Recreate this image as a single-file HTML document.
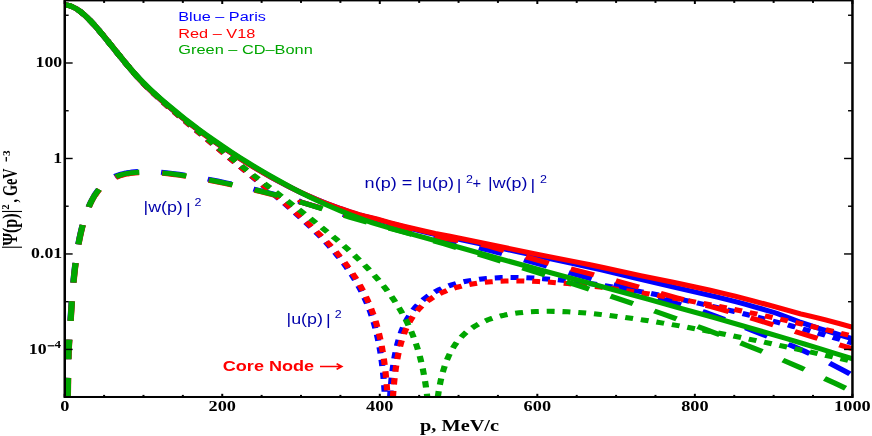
<!DOCTYPE html>
<html><head><meta charset="utf-8"><title>Deuteron momentum distribution</title>
<style>html,body{margin:0;padding:0;background:#fff}svg{display:block;will-change:transform}text{font-family:"Liberation Sans",sans-serif}.s{font-family:"Liberation Serif",serif;font-weight:bold}</style></head><body>
<svg width="872" height="436" viewBox="0 0 872 436">
<rect width="872" height="436" fill="#fff"/>
<defs><clipPath id="cp"><rect x="64.75" y="0.49" width="787.7" height="490.23"/></clipPath></defs>
<g transform="scale(1,0.809)">
<g clip-path="url(#cp)" fill="none" stroke-width="6.2" stroke-linejoin="round">
<path d="M65.00 5.98 L66.00 6.10 L67.50 6.41 L68.50 6.69 L70.00 7.24 L72.50 8.44 L75.00 9.99 L77.50 11.87 L80.50 14.51 L83.50 17.54 L86.50 20.90 L89.00 23.93 L92.00 27.80 L95.00 31.88 L98.00 36.14 L104.50 45.80 L121.50 71.84 L128.50 82.35 L132.50 88.17 L136.00 93.09 L139.00 97.16 L142.50 101.72 L147.00 107.32 L151.50 112.65 L157.00 118.88 L163.00 125.44 L169.50 132.33 L176.00 139.03 L182.50 145.53 L189.50 152.33 L197.00 159.37 L204.50 166.19 L212.50 173.23 L221.00 180.48 L229.50 187.50 L238.00 194.31 L247.00 201.32 L255.50 207.73 L263.50 213.55 L272.00 219.51 L280.50 225.24 L289.00 230.75 L295.00 234.48 L301.00 238.00 L309.50 242.76 L316.50 246.52 L321.50 249.09 L327.00 251.81 L332.50 254.44 L338.00 256.97 L343.00 259.17 L348.00 261.28 L353.00 263.30 L358.00 265.21 L361.00 266.30 L364.00 267.30 L376.50 271.17 L389.50 275.75 L396.50 278.10 L405.00 280.78 L427.00 287.50 L432.50 289.13 L436.00 290.09 L449.00 293.12 L461.50 296.34 L534.50 315.71 L572.00 325.49 L586.50 329.41 L601.50 333.68 L634.50 343.43 L675.00 355.19 L717.50 367.37 L727.50 370.34 L736.50 373.16 L745.00 375.96 L754.50 379.20 L765.00 382.90 L772.50 385.64 L776.50 387.27 L780.50 389.03 L799.00 397.63 L810.50 402.54 L818.50 405.75 L835.00 412.11 L844.50 415.70 L853.00 418.81" stroke="#0000ff" />
<path d="M64.70 5.96 L65.92 6.09 L67.10 6.31 L68.28 6.63 L69.47 7.03 L71.83 8.08 L74.39 9.58 L76.95 11.43 L79.71 13.78 L82.46 16.46 L85.42 19.65 L88.37 23.15 L91.52 27.17 L94.87 31.71 L98.61 37.04 L105.70 47.65 L125.39 77.85 L130.32 85.18 L134.65 91.43 L138.78 97.15 L143.12 102.85 L147.45 108.29 L152.17 113.96 L158.08 120.77 L165.17 128.66 L172.26 136.36 L179.35 143.84 L205.94 171.06 L227.40 193.18 L256.94 223.04 L269.74 236.09 L282.54 249.40 L293.57 261.21 L300.46 268.83 L306.96 276.23 L313.06 283.43 L318.77 290.41 L324.09 297.19 L329.01 303.75 L333.74 310.35 L338.07 316.73 L341.03 321.28 L343.78 325.71 L346.54 330.33 L349.10 334.83 L351.46 339.17 L353.83 343.73 L355.99 348.12 L358.14 352.72 L360.15 357.25 L362.16 362.05 L364.02 366.79 L365.74 371.46 L367.33 376.07 L368.92 380.95 L370.37 385.78 L371.80 390.87 L373.11 395.91 L374.31 400.89 L375.48 406.14 L376.60 411.65 L377.62 417.12 L378.59 422.84 L379.46 428.52 L380.29 434.45 L381.07 440.65 L381.80 447.10 L383.06 460.47 L384.12 474.88 L384.99 490.59 M390.12 490.55 L390.70 480.47 L391.38 471.00 L392.14 462.11 L392.99 453.83 L393.93 446.13 L394.99 438.77 L396.17 431.74 L397.44 425.29 L398.83 419.18 L400.34 413.40 L401.97 407.95 L403.81 402.58 L405.78 397.54 L407.89 392.84 L410.11 388.46 L412.57 384.18 L415.15 380.23 L418.00 376.39 L420.98 372.83 L424.32 369.33 L427.67 366.24 L431.22 363.37 L434.96 360.70 L439.09 358.11 L443.23 355.86 L447.76 353.71 L452.49 351.78 L457.41 350.06 L462.53 348.55 L468.04 347.18 L473.75 346.02 L479.66 345.05 L486.36 344.21 L493.45 343.58 L500.93 343.17 L508.61 342.98 L516.68 343.01 L525.15 343.26 L534.01 343.73 L543.07 344.41 L552.52 345.32 L562.37 346.45 L572.61 347.80 L583.05 349.36 L593.88 351.14 L605.10 353.15 L616.52 355.35 L628.34 357.78 L640.75 360.48 L653.35 363.38 L666.15 366.47 L679.34 369.79 L692.73 373.30 L706.52 377.05 L720.30 380.93 L734.48 385.06 L748.86 389.38 L763.23 393.82 L777.81 398.45 L792.57 403.27 L807.34 408.22 L822.31 413.35 L837.28 418.61 L852.24 423.99" stroke="#0000ff" stroke-dasharray="7.9 7.9"/>
<path d="M67.57 491.40 L68.13 449.25 L68.37 437.22 L68.63 429.04 L69.66 410.79 L71.57 374.72 L72.46 360.63 L73.40 347.54 L74.47 334.81 L75.61 323.22 L76.83 312.60 L78.15 302.77 L79.63 293.40 L81.29 284.31 L83.07 275.83 L84.97 268.05 L87.02 260.77 L88.10 257.35 L89.22 254.09 L90.53 250.57 L91.91 247.19 L93.34 244.01 L94.83 241.02 L94.60 240.97 L95.79 238.79 L97.02 236.70 L98.29 234.68 L99.59 232.79 L99.62 232.01 L100.94 230.23 L102.31 228.52 L103.70 226.93 L105.14 225.42 L106.87 223.76 L108.64 222.24 L110.48 220.83 L112.35 219.55 L114.32 218.36 L116.29 217.32 L118.26 216.40 L120.23 215.61 L122.20 214.91 L124.56 214.21 L126.92 213.62 L129.68 213.07 L132.04 212.69 L134.80 212.34 L137.56 212.10 L140.71 211.93 L145.04 211.86 L149.77 211.97 L154.89 212.27 L160.40 212.77 L166.31 213.47 L172.21 214.31 L178.91 215.41 L186.00 216.71 L193.48 218.21 L201.36 219.92 L209.24 221.73 L217.51 223.75 L226.17 225.97 L235.23 228.40 L244.68 231.04 L253.74 233.68 L263.19 236.55 L272.65 239.53 L281.71 242.51 L290.37 245.48 L299.43 248.72 L300.22 249.61 L327.79 259.69 L337.24 263.01 L345.52 265.79 L358.51 269.92 L383.32 277.45 L393.96 280.76 L405.38 284.45 L431.37 293.04 L438.46 295.29 L443.98 296.91 L450.28 298.66 L469.97 303.85 L477.45 305.88 L484.15 307.80 L490.45 309.75 L504.63 314.44 L522.35 320.52 L542.44 327.52 L570.80 337.62 L582.61 341.75 L591.67 344.77 L613.73 351.89 L625.15 355.78 L633.03 358.62 L642.08 361.99 L672.02 373.45 L690.92 380.46 L698.80 383.48 L704.71 385.89 L709.83 388.11 L725.58 395.47 L740.94 402.85 L760.63 412.52 L785.45 424.30 L792.53 427.83 L798.84 431.12 L805.14 434.57 L811.83 438.34 L818.53 442.24 L825.22 446.26 L831.92 450.39 L838.62 454.64 L845.31 458.99 L852.40 463.72" stroke="#0000ff" stroke-dasharray="24.3 23.12"/>
<path d="M65.00 5.98 L66.00 6.10 L67.50 6.41 L68.50 6.69 L70.00 7.24 L72.50 8.44 L75.00 9.99 L77.50 11.87 L80.50 14.51 L83.50 17.54 L86.50 20.90 L89.00 23.93 L91.50 27.14 L94.50 31.19 L97.50 35.42 L104.00 45.05 L122.00 72.60 L129.00 83.09 L133.00 88.88 L136.50 93.78 L139.50 97.82 L143.00 102.35 L147.50 107.92 L152.50 113.80 L158.00 119.99 L164.00 126.51 L170.50 133.37 L177.00 140.04 L183.50 146.52 L190.50 153.28 L198.00 160.29 L206.00 167.52 L214.00 174.53 L222.50 181.73 L231.00 188.72 L240.00 195.89 L249.50 203.22 L257.50 209.21 L265.50 214.97 L274.00 220.88 L282.50 226.56 L291.00 232.02 L297.00 235.67 L304.00 239.70 L312.00 244.10 L319.50 248.01 L324.50 250.50 L330.00 253.13 L340.00 257.65 L349.50 261.61 L354.50 263.55 L359.00 265.21 L364.00 266.89 L376.50 270.65 L389.50 275.09 L396.50 277.36 L404.50 279.79 L425.00 285.82 L435.00 288.64 L439.00 289.59 L448.50 291.68 L457.00 293.78 L536.50 314.18 L549.00 317.27 L577.00 324.05 L590.00 327.31 L603.00 330.70 L640.50 340.71 L673.00 348.90 L683.50 351.61 L710.00 358.80 L727.50 363.80 L735.00 366.06 L742.50 368.42 L753.00 371.84 L771.00 377.86 L800.50 387.86 L806.00 389.58 L818.50 393.30 L825.50 395.50 L839.50 400.04 L853.00 404.59" stroke="#ff0000" />
<path d="M64.70 5.96 L65.86 6.08 L67.05 6.30 L68.23 6.61 L69.41 7.01 L71.77 8.05 L74.33 9.55 L76.89 11.39 L79.65 13.73 L82.41 16.40 L85.16 19.37 L88.31 23.08 L91.46 27.09 L94.81 31.63 L98.55 36.96 L105.64 47.56 L125.53 78.06 L130.46 85.39 L134.99 91.90 L139.32 97.87 L143.65 103.54 L148.18 109.19 L152.91 114.82 L159.40 122.26 L167.08 130.76 L173.98 138.19 L181.85 146.43 L227.15 193.03 L263.97 229.80 L276.97 242.93 L287.80 254.11 L297.25 264.16 L303.95 271.51 L310.05 278.41 L315.76 285.10 L321.28 291.80 L326.40 298.28 L331.32 304.80 L335.85 311.09 L340.18 317.42 L343.13 321.95 L345.89 326.35 L348.65 330.95 L351.21 335.41 L353.57 339.72 L355.94 344.25 L358.10 348.61 L360.36 353.40 L362.40 357.97 L364.30 362.48 L366.20 367.26 L367.96 371.98 L369.59 376.64 L371.21 381.57 L372.70 386.44 L374.16 391.57 L375.49 396.65 L376.72 401.67 L377.91 406.96 L379.00 412.20 L380.04 417.70 L381.04 423.45 L381.94 429.16 L382.79 435.13 L383.59 441.35 L384.31 447.53 L385.61 460.96 L386.70 475.40 L387.59 490.87 M392.92 491.04 L393.51 481.26 L394.16 472.35 L394.92 463.76 L395.75 455.77 L396.70 448.11 L397.73 441.04 L398.87 434.30 L400.08 428.14 L401.40 422.32 L402.90 416.57 L404.51 411.15 L406.24 406.06 L408.09 401.30 L410.15 396.64 L412.32 392.30 L414.60 388.29 L417.11 384.37 L419.72 380.78 L422.50 377.39 L425.65 373.99 L428.99 370.83 L432.34 368.05 L435.89 365.45 L439.63 363.03 L443.57 360.80 L447.90 358.67 L452.23 356.81 L456.96 355.07 L461.88 353.52 L467.00 352.16 L472.32 350.97 L477.83 349.96 L484.33 349.02 L491.03 348.29 L498.11 347.76 L505.40 347.42 L513.28 347.28 L521.35 347.33 L529.82 347.58 L538.68 348.03 L547.94 348.68 L557.59 349.52 L567.63 350.56 L578.07 351.81 L588.90 353.25 L600.12 354.89 L611.74 356.73 L623.56 358.73 L636.36 361.04 L649.35 363.52 L662.74 366.21 L676.53 369.11 L690.51 372.17 L704.69 375.39 L719.26 378.83 L733.83 382.39 L748.60 386.11 L763.37 389.95 L778.14 393.91 L793.11 398.03 L808.07 402.27 L822.84 406.56 L837.61 410.97 L852.38 415.50" stroke="#ff0000" stroke-dasharray="7.9 7.9"/>
<path d="M67.87 491.40 L68.43 449.42 L68.67 437.35 L68.92 429.20 L69.97 410.56 L71.82 375.49 L72.67 361.94 L73.57 349.27 L74.62 336.56 L75.73 324.98 L76.92 314.34 L78.20 304.50 L79.63 295.18 L81.22 286.22 L82.95 277.74 L84.78 269.93 L86.86 262.31 L87.93 258.79 L89.05 255.43 L90.19 252.23 L91.37 249.20 L92.61 246.28 L93.88 243.52 L95.13 241.02 L95.40 240.97 L97.74 236.83 L98.99 234.85 L100.25 232.99 L100.39 232.79 L100.42 233.37 L102.69 230.39 L105.07 227.68 L106.63 226.10 L108.25 224.61 L109.94 223.21 L111.65 221.92 L113.54 220.66 L115.12 219.72 L117.09 218.68 L119.06 217.76 L121.03 216.97 L123.39 216.15 L125.36 215.57 L127.72 214.98 L130.09 214.50 L132.84 214.05 L135.21 213.75 L137.96 213.49 L141.51 213.29 L145.45 213.22 L149.38 213.29 L153.32 213.47 L157.65 213.79 L162.38 214.26 L167.50 214.88 L172.62 215.61 L178.13 216.50 L184.04 217.55 L190.34 218.77 L196.65 220.07 L210.04 223.09 L224.22 226.61 L236.03 229.76 L248.24 233.20 L260.45 236.82 L272.27 240.51 L286.44 245.20 L300.23 250.08 L300.22 249.61 L325.43 258.86 L333.70 261.80 L340.79 264.24 L353.00 268.19 L367.57 272.59 L389.63 279.00 L422.32 288.65 L436.10 292.56 L441.61 293.93 L447.52 295.23 L467.61 299.17 L475.09 300.75 L482.18 302.45 L488.88 304.32 L493.21 305.71 L501.87 308.74 L532.20 319.80 L543.62 323.82 L554.65 327.38 L580.64 335.36 L601.12 342.04 L617.27 347.43 L632.63 352.65 L665.32 364.21 L676.74 368.16 L686.59 371.38 L711.01 379.06 L717.31 381.13 L724.40 383.57 L737.79 388.34 L754.73 394.56 L773.24 401.48 L813.41 416.81 L827.59 422.04 L852.40 431.07" stroke="#ff0000" stroke-dasharray="24.3 23.12"/>
<path d="M65.00 5.98 L66.00 6.10 L67.50 6.41 L68.50 6.69 L70.00 7.24 L72.50 8.44 L75.00 9.99 L77.50 11.87 L80.50 14.51 L83.50 17.54 L86.50 20.90 L89.00 23.93 L91.50 27.14 L94.50 31.19 L97.50 35.42 L103.50 44.29 L120.00 69.52 L127.50 80.72 L131.50 86.49 L135.00 91.38 L138.50 96.08 L142.00 100.59 L146.50 106.14 L151.50 112.01 L157.00 118.19 L163.00 124.68 L170.00 132.03 L177.00 139.15 L184.00 146.07 L191.00 152.78 L198.50 159.76 L206.50 166.98 L214.50 173.97 L222.50 180.74 L231.00 187.73 L239.50 194.51 L248.50 201.47 L257.50 208.25 L266.50 214.82 L275.00 220.84 L284.00 227.02 L292.50 232.66 L301.00 238.10 L309.50 243.33 L318.00 248.37 L326.00 252.91 L334.00 257.26 L341.50 261.16 L349.50 265.12 L357.00 268.66 L364.50 272.01 L372.00 275.17 L379.50 278.14 L387.00 280.93 L397.50 284.62 L424.50 293.78 L465.50 308.06 L497.50 319.05 L536.50 332.29 L648.00 369.87 L682.50 381.66 L713.50 392.40 L751.50 405.84 L769.50 412.33 L787.00 418.73 L804.00 425.03 L821.00 431.43 L837.00 437.56 L853.00 443.78" stroke="#00a600" />
<path d="M64.70 5.96 L66.02 6.11 L67.20 6.34 L68.58 6.72 L69.96 7.22 L71.34 7.84 L72.71 8.56 L74.09 9.39 L75.47 10.33 L76.85 11.35 L78.43 12.64 L81.38 15.37 L84.53 18.66 L87.68 22.31 L90.24 25.50 L93.00 29.14 L95.76 32.95 L98.91 37.47 L105.01 46.60 L119.19 68.36 L125.29 77.59 L131.60 86.81 L137.11 94.49 L140.26 98.67 L143.61 102.96 L146.96 107.10 L150.50 111.34 L158.18 120.15 L167.83 130.74 L174.92 138.26 L183.58 147.18 L217.85 181.94 L229.66 193.71 L241.09 204.77 L253.49 216.57 L292.48 253.07 L305.48 265.34 L318.28 277.69 L329.31 288.66 L336.00 295.53 L342.11 301.96 L347.82 308.15 L353.33 314.33 L358.65 320.50 L363.57 326.44 L368.30 332.37 L372.63 338.04 L375.78 342.33 L378.74 346.49 L381.69 350.80 L384.45 354.98 L387.20 359.33 L389.76 363.54 L392.13 367.59 L394.49 371.81 L396.85 376.24 L399.02 380.49 L401.13 384.85 L403.10 389.13 L404.95 393.35 L406.82 397.85 L408.56 402.30 L410.30 407.02 L411.91 411.68 L413.41 416.29 L414.80 420.85 L416.17 425.67 L417.43 430.45 L418.67 435.50 L419.81 440.49 L420.85 445.44 L421.86 450.66 L422.84 456.13 L424.56 467.26 L426.04 478.83 L427.35 491.44 M437.76 491.26 L438.59 484.39 L439.51 477.84 L440.51 471.62 L441.61 465.71 L442.79 460.12 L444.07 454.85 L445.42 449.90 L446.93 445.02 L448.52 440.45 L450.19 436.20 L452.03 432.03 L453.94 428.17 L456.04 424.40 L458.20 420.93 L460.56 417.55 L462.96 414.47 L465.58 411.47 L468.34 408.66 L471.29 405.97 L474.25 403.58 L477.40 401.31 L480.74 399.17 L484.29 397.16 L488.03 395.31 L491.97 393.60 L496.10 392.04 L500.44 390.63 L504.77 389.43 L509.30 388.37 L514.22 387.41 L519.14 386.63 L524.46 385.97 L529.97 385.46 L535.69 385.10 L541.59 384.89 L547.89 384.82 L554.20 384.89 L560.89 385.11 L567.78 385.48 L575.07 386.00 L582.55 386.66 L590.23 387.47 L598.31 388.44 L606.58 389.54 L615.24 390.81 L624.10 392.21 L633.36 393.78 L642.81 395.48 L652.66 397.35 L662.90 399.38 L673.53 401.58 L684.36 403.90 L707.40 409.10 L732.22 415.00 L758.80 421.62 L787.55 429.04 L818.67 437.33 L852.34 446.53" stroke="#00a600" stroke-dasharray="7.9 7.9"/>
<path d="M67.72 491.40 L68.29 449.08 L68.52 437.10 L68.78 428.88 L69.80 411.01 L71.78 373.77 L72.71 359.14 L73.71 345.55 L74.81 332.82 L75.98 321.23 L77.24 310.56 L78.61 300.70 L80.15 291.22 L81.90 282.01 L83.73 273.63 L85.69 265.88 L87.78 258.79 L88.88 255.48 L90.00 252.34 L91.16 249.36 L92.37 246.48 L93.61 243.77 L94.91 241.16 L96.26 238.66 L97.65 236.31 L99.10 234.07 L100.62 231.93 L102.17 229.92 L103.76 228.06 L105.41 226.29 L107.10 224.66 L108.83 223.16 L110.59 221.79 L112.36 220.55 L114.33 219.33 L116.29 218.26 L118.26 217.32 L120.23 216.50 L122.60 215.66 L124.96 214.95 L127.32 214.36 L129.69 213.88 L132.44 213.43 L135.20 213.09 L137.96 212.84 L140.71 212.69 L143.86 212.61 L148.59 212.66 L153.71 212.90 L159.22 213.35 L165.13 214.01 L171.43 214.88 L178.13 215.95 L185.22 217.23 L193.10 218.79 L201.37 220.57 L209.64 222.47 L218.30 224.59 L227.36 226.92 L236.81 229.46 L246.26 232.12 L255.72 234.89 L264.78 237.65 L279.35 242.33 L293.53 247.19 L306.52 251.95 L336.46 263.48 L350.24 268.59 L365.21 273.83 L401.05 285.99 L412.86 290.13 L425.47 294.65 L443.58 301.26 L463.67 308.73 L486.51 317.33 L511.33 326.78 L540.86 338.18 L568.43 349.00 L594.03 359.26 L618.06 369.09 L640.90 378.66 L662.96 388.14 L684.23 397.53 L704.71 406.83 L724.79 416.23 L744.49 425.73 L763.39 435.14 L781.90 444.65 L800.02 454.26 L817.74 463.98 L835.07 473.79 L852.40 483.93" stroke="#00a600" stroke-dasharray="24.3 23.12"/>
</g>
<g stroke="#000" stroke-width="1.3" fill="none"><g stroke-width="2"><line x1="64.70" y1="490.73" x2="64.70" y2="486.77"/><line x1="64.70" y1="0.49" x2="64.70" y2="4.94"/><line x1="104.09" y1="490.73" x2="104.09" y2="488.13"/><line x1="104.09" y1="0.49" x2="104.09" y2="3.58"/><line x1="143.47" y1="490.73" x2="143.47" y2="488.13"/><line x1="143.47" y1="0.49" x2="143.47" y2="3.58"/><line x1="182.85" y1="490.73" x2="182.85" y2="488.13"/><line x1="182.85" y1="0.49" x2="182.85" y2="3.58"/><line x1="222.24" y1="490.73" x2="222.24" y2="486.77"/><line x1="222.24" y1="0.49" x2="222.24" y2="4.94"/><line x1="261.62" y1="490.73" x2="261.62" y2="488.13"/><line x1="261.62" y1="0.49" x2="261.62" y2="3.58"/><line x1="301.01" y1="490.73" x2="301.01" y2="488.13"/><line x1="301.01" y1="0.49" x2="301.01" y2="3.58"/><line x1="340.39" y1="490.73" x2="340.39" y2="488.13"/><line x1="340.39" y1="0.49" x2="340.39" y2="3.58"/><line x1="379.78" y1="490.73" x2="379.78" y2="486.77"/><line x1="379.78" y1="0.49" x2="379.78" y2="4.94"/><line x1="419.16" y1="490.73" x2="419.16" y2="488.13"/><line x1="419.16" y1="0.49" x2="419.16" y2="3.58"/><line x1="458.55" y1="490.73" x2="458.55" y2="488.13"/><line x1="458.55" y1="0.49" x2="458.55" y2="3.58"/><line x1="497.93" y1="490.73" x2="497.93" y2="488.13"/><line x1="497.93" y1="0.49" x2="497.93" y2="3.58"/><line x1="537.32" y1="490.73" x2="537.32" y2="486.77"/><line x1="537.32" y1="0.49" x2="537.32" y2="4.94"/><line x1="576.71" y1="490.73" x2="576.71" y2="488.13"/><line x1="576.71" y1="0.49" x2="576.71" y2="3.58"/><line x1="616.09" y1="490.73" x2="616.09" y2="488.13"/><line x1="616.09" y1="0.49" x2="616.09" y2="3.58"/><line x1="655.48" y1="490.73" x2="655.48" y2="488.13"/><line x1="655.48" y1="0.49" x2="655.48" y2="3.58"/><line x1="694.86" y1="490.73" x2="694.86" y2="486.77"/><line x1="694.86" y1="0.49" x2="694.86" y2="4.94"/><line x1="734.25" y1="490.73" x2="734.25" y2="488.13"/><line x1="734.25" y1="0.49" x2="734.25" y2="3.58"/><line x1="773.63" y1="490.73" x2="773.63" y2="488.13"/><line x1="773.63" y1="0.49" x2="773.63" y2="3.58"/><line x1="813.01" y1="490.73" x2="813.01" y2="488.13"/><line x1="813.01" y1="0.49" x2="813.01" y2="3.58"/><line x1="852.40" y1="490.73" x2="852.40" y2="486.77"/><line x1="852.40" y1="0.49" x2="852.40" y2="4.94"/></g><g stroke-width="1.75"><line x1="64.75" y1="490.95" x2="68.65" y2="490.95"/><line x1="852.45" y1="490.95" x2="848.05" y2="490.95"/><line x1="64.75" y1="431.94" x2="72.65" y2="431.94"/><line x1="852.45" y1="431.94" x2="844.05" y2="431.94"/><line x1="64.75" y1="372.93" x2="68.65" y2="372.93"/><line x1="852.45" y1="372.93" x2="848.05" y2="372.93"/><line x1="64.75" y1="313.92" x2="72.65" y2="313.92"/><line x1="852.45" y1="313.92" x2="844.05" y2="313.92"/><line x1="64.75" y1="254.91" x2="68.65" y2="254.91"/><line x1="852.45" y1="254.91" x2="848.05" y2="254.91"/><line x1="64.75" y1="195.90" x2="72.65" y2="195.90"/><line x1="852.45" y1="195.90" x2="844.05" y2="195.90"/><line x1="64.75" y1="136.89" x2="68.65" y2="136.89"/><line x1="852.45" y1="136.89" x2="848.05" y2="136.89"/><line x1="64.75" y1="77.87" x2="72.65" y2="77.87"/><line x1="852.45" y1="77.87" x2="844.05" y2="77.87"/><line x1="64.75" y1="18.86" x2="68.65" y2="18.86"/><line x1="852.45" y1="18.86" x2="848.05" y2="18.86"/></g></g>
<rect x="64.75" y="0.49" width="787.70" height="490.23" fill="none" stroke="#000" stroke-width="2.5"/>
<text x="178.3" y="26.21" font-size="15.6" fill="#0000ff" textLength="87.6" lengthAdjust="spacingAndGlyphs">Blue – Paris</text>
<text x="178.3" y="46.60" font-size="15.6" fill="#ff0000" textLength="77" lengthAdjust="spacingAndGlyphs">Red – V18</text>
<text x="178.3" y="66.38" font-size="15.6" fill="#00a600" textLength="134.5" lengthAdjust="spacingAndGlyphs">Green – CD–Bonn</text>
<text x="364.6" y="232.88" font-size="18.0" fill="#0000aa" textLength="89.4" lengthAdjust="spacingAndGlyphs">n(p) = |u(p)</text>
<text x="456.7" y="234.73" font-size="18.0" fill="#0000aa">|</text>
<text x="466.0" y="226.33" font-size="12.5" fill="#0000aa">2</text>
<text x="472.6" y="232.88" font-size="18.0" fill="#0000aa" textLength="8.6" lengthAdjust="spacingAndGlyphs">+</text>
<text x="488.1" y="232.88" font-size="18.0" fill="#0000aa" textLength="39.3" lengthAdjust="spacingAndGlyphs">|w(p)</text>
<text x="530.4" y="234.73" font-size="18.0" fill="#0000aa">|</text>
<text x="540.0" y="226.33" font-size="12.5" fill="#0000aa">2</text>
<text x="143.5" y="261.80" font-size="18.0" fill="#0000aa" textLength="39.3" lengthAdjust="spacingAndGlyphs">|w(p)</text>
<text x="186.0" y="263.91" font-size="18.0" fill="#0000aa">|</text>
<text x="194.4" y="254.88" font-size="12.5" fill="#0000aa">2</text>
<text x="286.5" y="400.00" font-size="18.0" fill="#0000aa" textLength="36.4" lengthAdjust="spacingAndGlyphs">|u(p)</text>
<text x="326.1" y="402.10" font-size="18.0" fill="#0000aa">|</text>
<text x="334.8" y="393.08" font-size="12.5" fill="#0000aa">2</text>
<text x="222.8" y="459.21" font-size="18.4" font-weight="bold" fill="#ff0000" textLength="91.3" lengthAdjust="spacingAndGlyphs">Core Node</text>
<path d="M320 453.03 H340.6 M336.6 449.57 L341.8 453.03 L336.6 456.49" stroke="#ff0000" stroke-width="1.9" fill="none" stroke-linejoin="miter"/>
<text class="s" x="64.70" y="507.73" font-size="18.3" text-anchor="middle">0</text>
<text class="s" x="222.24" y="507.73" font-size="18.3" text-anchor="middle">200</text>
<text class="s" x="379.78" y="507.73" font-size="18.3" text-anchor="middle">400</text>
<text class="s" x="537.32" y="507.73" font-size="18.3" text-anchor="middle">600</text>
<text class="s" x="694.86" y="507.73" font-size="18.3" text-anchor="middle">800</text>
<text class="s" x="852.40" y="507.73" font-size="18.3" text-anchor="middle">1000</text>
<text class="s" x="459.5" y="533.00" font-size="20" text-anchor="middle" textLength="79" lengthAdjust="spacingAndGlyphs">p, MeV/c</text>
<text class="s" x="62.2" y="83.07" font-size="17.8" text-anchor="end">100</text>
<text class="s" x="62.2" y="201.09" font-size="17.8" text-anchor="end">1</text>
<text class="s" x="62.2" y="319.11" font-size="17.8" text-anchor="end">0.01</text>
<text class="s" x="46.6" y="437.63" font-size="17.8" text-anchor="end">10</text>
<line x1="47.7" x2="54.2" y1="427.43" y2="427.43" stroke="#000" stroke-width="1.5"/>
<text class="s" x="54.6" y="430.52" font-size="12.6" textLength="6.5" lengthAdjust="spacingAndGlyphs">4</text>
<text class="s" transform="translate(17.3,307.91) rotate(-90)" font-size="20" textLength="48.6" lengthAdjust="spacingAndGlyphs">|Ψ(p)|</text>
<text class="s" transform="translate(8.5,259.21) rotate(-90)" font-size="9.8" textLength="6.6" lengthAdjust="spacingAndGlyphs">2</text>
<text class="s" transform="translate(17.3,250.19) rotate(-90)" font-size="20" textLength="42" lengthAdjust="spacingAndGlyphs">, GeV</text>
<line x1="6.3" x2="6.3" y1="193.94" y2="199.51" stroke="#000" stroke-width="1.3"/>
<text class="s" transform="translate(9.9,192.71) rotate(-90)" font-size="9.8" textLength="6.9" lengthAdjust="spacingAndGlyphs">3</text>
</g></svg></body></html>
